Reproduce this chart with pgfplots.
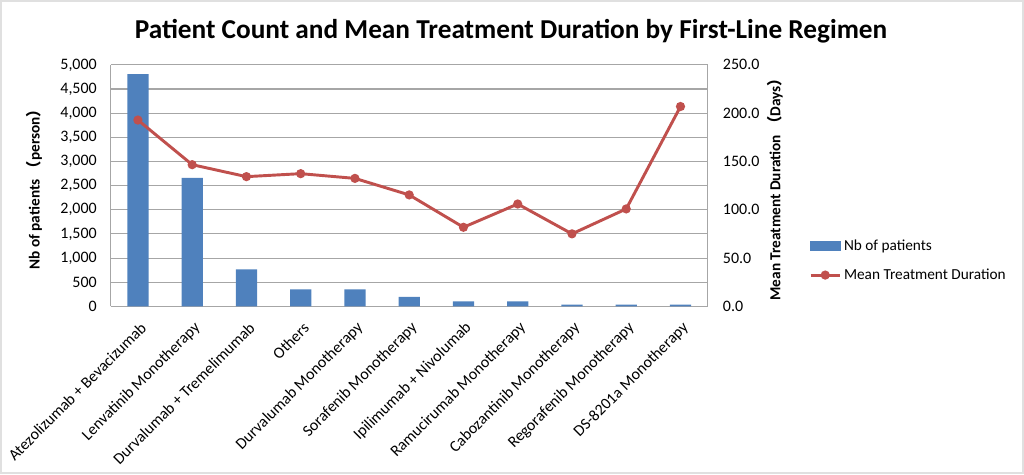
\documentclass[border=0pt]{standalone}
\usepackage{pgfplots}
\pgfplotsset{compat=1.18}
\usepackage{fontspec}
\setmainfont{Carlito}
\newfontfamily\cjk{Noto Sans CJK SC}
\definecolor{barblue}{HTML}{4F81BD}
\definecolor{linered}{HTML}{C0504D}
\definecolor{gridgray}{HTML}{A6A6A6}
\begin{document}
\begin{tikzpicture}[x=0.75pt,y=0.75pt]
\path[use as bounding box, draw=black!12, line width=1.5pt] (-110,-167) rectangle (914,306);
\pgfplotsset{
  base/.style={
    at={(0,0)}, anchor=south west,
    scale only axis, width=448.5pt, height=181.5pt,
    xmin=-0.5, xmax=10.5,
    axis line style={gridgray, line width=0.8pt},
    tick style={draw=none},
    ticklabel style={font=\fontsize{12}{14}\selectfont},
    label style={font=\bfseries\fontsize{11.5}{14}\selectfont},
    /pgf/number format/assume math mode=true,
  }
}
\begin{axis}[base,
  ymin=0, ymax=5000, ytick={0,500,...,5000},
  ymajorgrids, grid style={gridgray, line width=0.8pt},
  scaled y ticks=false,
  yticklabel style={xshift=-7pt, /pgf/number format/.cd, fixed, 1000 sep={,}},
  ylabel={Nb of patients {\cjk （}person{\cjk ）}},
  ylabel style={yshift=7pt},
  xtick={0,...,10},
  xticklabels={Atezolizumab + Bevacizumab, Lenvatinib Monotherapy, Durvalumab + Tremelimumab, Others, Durvalumab Monotherapy, Sorafenib Monotherapy, Ipilimumab + Nivolumab, Ramucirumab Monotherapy, Cabozantinib Monotherapy, Regorafenib Monotherapy, DS-8201a Monotherapy},
  xticklabel style={rotate=45, anchor=east, inner sep=1pt, xshift=-6pt, yshift=-13pt},
  axis y line*=left, axis x line*=bottom,
]
\addplot[ybar, bar width=16pt, fill=barblue, draw=none] coordinates {
(0,4810) (1,2660) (2,765) (3,352) (4,352) (5,195) (6,103) (7,103) (8,35) (9,35) (10,35)};
\end{axis}
\begin{axis}[base,
  ymin=0, ymax=250, ytick={0,50,...,250},
  yticklabel style={xshift=8pt, /pgf/number format/.cd, fixed, fixed zerofill, precision=1},
  axis y line*=right, axis x line=none,
  xtick=\empty,
  ylabel={Mean Treatment Duration {\cjk （}Days{\cjk ）}},
  ylabel style={rotate=0, yshift=1pt},
  legend style={at={(rel axis cs:1.163,0.30)}, anchor=north west, draw=none, fill=none,
    font=\fontsize{11.5}{14}\selectfont, row sep=8.5pt, cells={anchor=west}},
  legend cell align=left,
]
\draw[gridgray, line width=0.8pt] (rel axis cs:0,1) -- (rel axis cs:1,1);
\addlegendimage{legend image code/.code={\fill[barblue] (0pt,-3.2pt) rectangle (22pt,3.2pt);}}
\addlegendentry{Nb of patients}
\addplot[linered, line width=2.2pt, mark=*, mark size=2.3pt,
  legend image code/.code={\draw[linered, line width=2.2pt] (0pt,0pt) -- (22pt,0pt); \fill[linered] (11pt,0pt) circle (2.3pt);}]
coordinates {(0,192.9) (1,146.7) (2,134.3) (3,137.4) (4,132.5) (5,115.4) (6,81.9) (7,106.0) (8,75.1) (9,100.9) (10,206.9)};
\addlegendentry{Mean Treatment Duration}
\end{axis}
\node[font=\bfseries\fontsize{20.5}{24}\selectfont] at (401,276) {Patient Count and Mean Treatment Duration by First-Line Regimen};
\end{tikzpicture}
\end{document}
